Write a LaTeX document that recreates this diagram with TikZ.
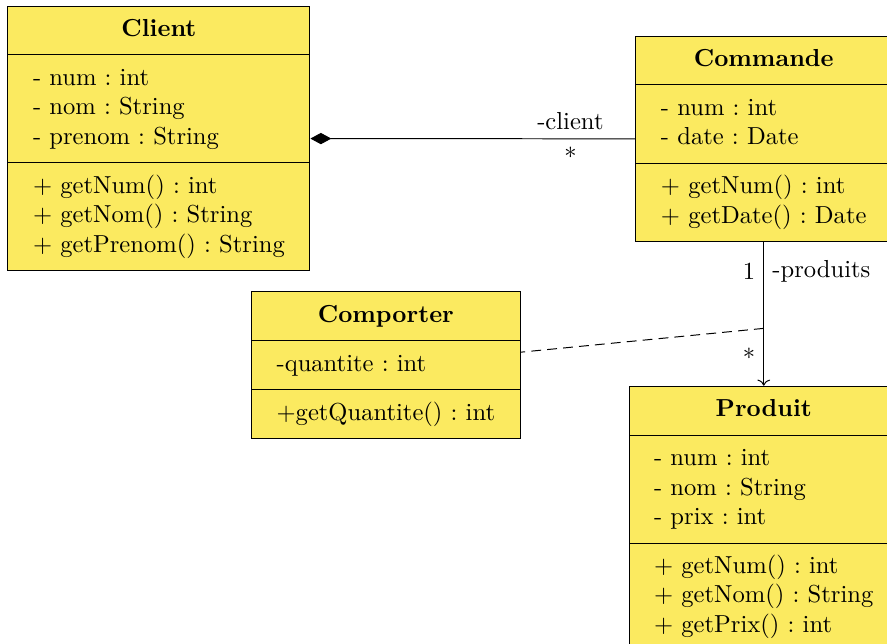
\documentclass[tikz,border=0pt]{standalone}
\usetikzlibrary{shapes.multipart,arrows.meta,positioning}
\definecolor{classfill}{RGB}{251,234,96}
\def\pad{10.2pt}
\def\gap{2.05cm}
\frenchspacing

\begin{document}
\begin{tikzpicture}[
  umlclass/.style={rectangle split, rectangle split parts=3, draw, fill=classfill,
    rectangle split part align={center,left,left}, align=left,
    inner xsep=\pad, inner ysep=3.75pt},
  ]
  % frame of the picture
  \useasboundingbox (0,0) rectangle (12.68,-9.2);
  \clip (0,0) rectangle (12.68,-9.2);
  % classes
  \node[umlclass] (client) at (2.272,-1.979) {\textbf{Client}\strut
    \nodepart{second}- num : int\strut\\- nom : String\strut\\- prenom : String\strut
    \nodepart{third}$+$ getNum() : int\strut\\$+$ getNom() : String\strut\\$+$ getPrenom() : String\strut};
  \node[umlclass] (commande) at (10.918,-1.986) {\textbf{Commande}\strut
    \nodepart{second}- num : int\strut\\- date : Date\strut
    \nodepart{third}$+$ getNum() : int\strut\\$+$ getDate() : Date\strut};
  \node[umlclass, below=\gap of commande] (produit) {\textbf{Produit}\strut
    \nodepart{second}- num : int\strut\\- nom : String\strut\\- prix : int\strut
    \nodepart{third}$+$ getNum() : int\strut\\$+$ getNom() : String\strut\\$+$ getPrix() : int\strut};
  \node[umlclass] (comporter) at (5.516,-5.223) {\textbf{Comporter}\strut
    \nodepart{second}-quantite : int\strut
    \nodepart{third}$+$getQuantite() : int\strut};
  % relations
  \draw[{Diamond[length=8.5pt,width=4.6pt]}-] (client) -- node[above,pos=0.8] {-client}
    node[below,pos=0.8] {*} (commande);
  \draw[->] (commande) -- node[left,pos=0.2] {1} node[right,pos=0.2] {-produits}
    node[left,pos=0.8] {*} coordinate[pos=0.6] (lien) (produit);
  % association class
  \draw[dash pattern=on 4pt off 2.5pt] (lien) -- (comporter);
\end{tikzpicture}
\end{document}
